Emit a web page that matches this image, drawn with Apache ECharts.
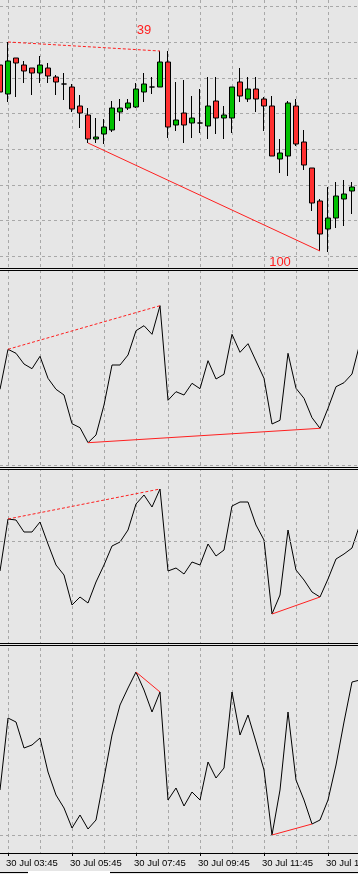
<!DOCTYPE html>
<html><head><meta charset="utf-8">
<script src="https://cdn.jsdelivr.net/npm/echarts@6/dist/echarts.min.js"></script>
<style>html,body{margin:0;padding:0;background:#e6e6e6;}#c{width:358px;height:874px;}</style>
</head><body><div id="c"></div>
<script>
// ---- data ----
const times = ["30 Jul 03:30","30 Jul 03:45","30 Jul 04:00","30 Jul 04:15","30 Jul 04:30","30 Jul 04:45","30 Jul 05:00","30 Jul 05:15","30 Jul 05:30","30 Jul 05:45","30 Jul 06:00","30 Jul 06:15","30 Jul 06:30","30 Jul 06:45","30 Jul 07:00","30 Jul 07:15","30 Jul 07:30","30 Jul 07:45","30 Jul 08:00","30 Jul 08:15","30 Jul 08:30","30 Jul 08:45","30 Jul 09:00","30 Jul 09:15","30 Jul 09:30","30 Jul 09:45","30 Jul 10:00","30 Jul 10:15","30 Jul 10:30","30 Jul 10:45","30 Jul 11:00","30 Jul 11:15","30 Jul 11:30","30 Jul 11:45","30 Jul 12:00","30 Jul 12:15","30 Jul 12:30","30 Jul 12:45","30 Jul 13:00","30 Jul 13:15","30 Jul 13:30","30 Jul 13:45","30 Jul 14:00","30 Jul 14:15","30 Jul 14:30","30 Jul 14:45"];
const opens  = [227,198,234,227,224,219,224,215,208,205,186,177,153,158,162,180,184,185,200,205,205,230,167,179,169,169,166,191,174,174,210,193,203,193,186,133,136,186,150,124,91,63,74,93,101];
const closes = [200,231,229,221,219,227,216,210,208,183,179,153,155,165,184,184,189,203,208,205,230,165,172,167,174,169,186,174,177,205,196,203,193,186,136,139,189,148,127,89,58,74,96,98,105];
const lows   = [190,190,195,209,197,209,209,197,192,180,164,149,149,148,160,171,182,184,190,198,205,154,161,149,154,159,153,158,153,159,190,190,180,161,136,119,116,146,122,81,41,40,64,66,78];
const highs  = [239,250,234,231,224,236,229,217,219,208,197,184,174,173,191,193,193,209,219,215,241,241,210,212,196,203,215,215,186,205,224,215,215,195,196,153,191,193,162,124,93,105,110,112,110];
const osc1 = [75.7,115.7,111.7,101,96.3,108.7,86.7,75.7,70,41.3,37.3,22.3,30,60,100,100,110,134.3,139.3,130.7,159.3,64.7,73.3,70,81.7,76.3,104.3,86,90.7,130.7,112.7,121.3,104,86.7,41,44.7,111.7,76.7,66.7,47.3,36.7,56.7,78.3,82.3,91,122];
const osc2 = [-30,22,21,9,9,19,-3,-24,-34,-64,-56,-62,-41,-24,-5,-1,11,37,46,34,52,-30,-27,-33,-21,-24,-3,-15,-9,35,39,39,16,1,-73,-54,11,-29,-39,-51,-56,-38,-18,-13,-7,17];
const osc3 = [45,117,113,87,90,97,63,40,27,7,20,6,15,57,100,130,147,163,145,123,143,35,47,29,43,35,73,57,67,143,100,120,93,65,0,45,123,55,35,11,15,35,70,113,153,155];
// trend lines: [fromIndex, toIndex, dashed]
const priceTrendHigh = [1, 20, true];
const priceTrendLow  = [11, 40, false];
const osc1Trends = [[1, 20, true], [11, 40, false]];
const osc2Trends = [[1, 20, true], [34, 40, false]];
const osc3Trends = [[17, 20, false], [34, 39, false]];
const noteTexts = ['39', '100'];
const noteIdx = [18, 35];
const noteVals = [262, 36];
const noteShift = [0, 6];
const oscLevels = [0, 0, 0];

// ---- styles ----
const BG = '#e6e6e6';
const GRIDC = '#a8a8a8';
const gridLine = { color: GRIDC, type: [3, 3], width: 1 };
const RED = '#ff2020';

function trendPair(arr, a, b, dashed) {
  return [
    { coord: [times[a], arr[a]], lineStyle: { color: RED, width: 1, type: dashed ? [3, 2] : 'solid' } },
    { coord: [times[b], arr[b]] }
  ];
}
function markLines(arr, trends, level) {
  const d = trends.map(function (t) { return trendPair(arr, t[0], t[1], t[2]); });
  if (level !== undefined) d.push({ yAxis: level });
  return {
    silent: true, symbol: ['none', 'none'], label: { show: false }, animation: false,
    lineStyle: { color: GRIDC, type: [3, 3], width: 1 },
    emphasis: { disabled: true },
    data: d
  };
}
function xAx(gridIndex, extra) {
  return Object.assign({
    type: 'category', gridIndex: gridIndex, data: times, boundaryGap: false,
    axisLine: { show: false, onZero: false }, axisTick: { show: false }, axisLabel: { show: false }, splitLine: { show: false }
  }, extra || {});
}
function yAx(gridIndex, extra) {
  return Object.assign({
    type: 'value', gridIndex: gridIndex, scale: true,
    axisLine: { show: false, onZero: false }, axisTick: { show: false }, axisLabel: { show: false }, splitLine: { show: false }
  }, extra || {});
}
function gridAt(top, height) {
  return { left: 0, width: 360, top: top, height: height, containLabel: false, outerBoundsMode: 'none' };
}

const chart = echarts.init(document.getElementById('c'), null, { renderer: 'canvas' });
const seps = [268, 467, 643];
const graphics = [];
seps.forEach(function (y) {
  graphics.push({ type: 'rect', shape: { x: 0, y: y, width: 358, height: 3 }, style: { fill: BG }, z: 100 });
  graphics.push({ type: 'rect', shape: { x: 0, y: y, width: 358, height: 1 }, style: { fill: '#000' }, z: 101 });
  graphics.push({ type: 'rect', shape: { x: 0, y: y + 2, width: 358, height: 1 }, style: { fill: '#000' }, z: 101 });
});
graphics.push({ type: 'rect', shape: { x: 0, y: 872, width: 358, height: 1 }, style: { fill: '#000' }, z: 100 });
graphics.push({ type: 'rect', shape: { x: 28, y: 871, width: 82, height: 3 }, style: { fill: '#ffffff' }, z: 101 });

const option = {
  animation: false,
  backgroundColor: BG,
  grid: [
    gridAt(6.4, 249.9),
    gridAt(271, 194),
    gridAt(470, 173),
    gridAt(646, 207),
    gridAt(0, 853)
  ],
  xAxis: [
    xAx(0), xAx(1), xAx(2),
    xAx(3, {
      axisLine: { show: true, onZero: false, lineStyle: { color: '#000', width: 1 } },
      axisTick: { show: true, length: 3, interval: function (i) { return i % 8 === 1; }, lineStyle: { color: '#000' } },
      axisLabel: {
        show: true, interval: function (i) { return i % 8 === 1; }, color: '#000', hideOverlap: false,
        fontFamily: 'Liberation Sans', fontSize: 9.5, align: 'left', margin: 5, padding: [0, 0, 0, -2]
      }
    }),
    xAx(4, { splitLine: { show: true, interval: function (i) { return i % 4 === 1; }, lineStyle: gridLine } })
  ],
  yAxis: [
    yAx(0, { scale: false, min: 35.7, max: 285.6, interval: 35.7, splitLine: { show: true, lineStyle: gridLine } }),
    yAx(1, { min: 0, max: 194 }),
    yAx(2, { min: -102, max: 71 }),
    yAx(3, { min: -18, max: 189 }),
    yAx(4, { min: 0, max: 1 })
  ],
  series: [
    {
      type: 'candlestick', xAxisIndex: 0, yAxisIndex: 0, barWidth: 5,
      data: opens.map(function (o, i) { return [o, closes[i], lows[i], highs[i]]; }),
      itemStyle: { color: '#00c000', color0: '#ff3030', borderColor: '#000', borderColor0: '#000', borderColorDoji: '#000', borderWidth: 1 },
      markLine: markLines(null, [], undefined),
      markPoint: {
        silent: true, symbol: 'rect', symbolSize: [1, 1], itemStyle: { color: 'rgba(0,0,0,0)' },
        label: { show: true, position: 'inside', color: RED, fontFamily: 'Liberation Sans', fontSize: 13, formatter: function (p) { return p.name; } },
        data: noteTexts.map(function (t, k) {
          return { name: t, coord: [times[noteIdx[k]], noteVals[k]], label: { offset: [0, noteShift[k]] } };
        })
      }
    },
    {
      type: 'line', xAxisIndex: 1, yAxisIndex: 1, data: osc1, symbol: 'none',
      lineStyle: { color: '#000', width: 1 }, itemStyle: { color: '#000' },
      markLine: markLines(osc1, osc1Trends, oscLevels[0])
    },
    {
      type: 'line', xAxisIndex: 2, yAxisIndex: 2, data: osc2, symbol: 'none',
      lineStyle: { color: '#000', width: 1 }, itemStyle: { color: '#000' },
      markLine: markLines(osc2, osc2Trends, oscLevels[1])
    },
    {
      type: 'line', xAxisIndex: 3, yAxisIndex: 3, data: osc3, symbol: 'none',
      lineStyle: { color: '#000', width: 1 }, itemStyle: { color: '#000' },
      markLine: markLines(osc3, osc3Trends, oscLevels[2])
    }
  ],
  graphic: graphics
};
// price trend lines (high-to-high dashed, low-to-low solid)
option.series[0].markLine.data = [
  trendPair(highs, priceTrendHigh[0], priceTrendHigh[1], priceTrendHigh[2]),
  trendPair(lows, priceTrendLow[0], priceTrendLow[1], priceTrendLow[2])
];
chart.setOption(option);
</script>
</body></html>
